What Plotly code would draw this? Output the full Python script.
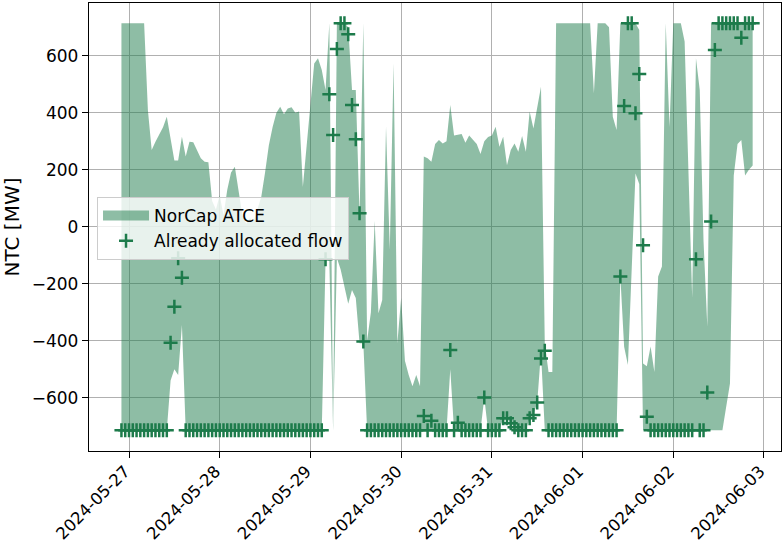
import pandas as pd
import plotly.graph_objects as go

# ---- data (hourly, starting 2024-05-26 22:00) ----
START = "2024-05-26 22:00"

upper = [
    714, 714, 714, 714, 714, 714, 714, 409, 269, 298, 326, 349, 386, 316, 232, 232, 316, 246, 298, 296, 269, 240, 228, 226,
    90, 60, 110, 40, 130, 190, 210, 120, 40, 10, 30, 20, 60, 105, 190, 286, 350, 400, 421, 395, 415, 419, 400, 404,
    140, 280, 410, 573, 591, 550, 480, 714, -700, 714, 714, 714, 700, 480, 480, 40, 714, -400, -300, 20, -304, -257, 351, -80,
    573, -409, -250, -470, -520, -560, -520, -560, 246, 240, 228, 290, 304, 292, 300, 427, 320, 322, 325, 295, 320, 305, 290, 255,
    300, 315, 320, 351, 281, 316, 216, 269, 292, 263, 318, 263, 404, 345, 420, 491, -410, -510, -510, 714, 714, 714, 714, 714,
    714, 714, 714, 714, 714, 468, 714, 714, 714, 700, 386, 339, 714, 714, 714, 714, 714, 690, -480, -490, -420, -510, -175, -140,
    714, 350, 714, 714, 714, 650, 200, -250, 591, 480, -50, -351, 714, 714, 714, 714, 714, 714, 714, 714, 714, 714, 714, 714,
]

lower = [
    -714, -714, -714, -714, -714, -714, -714, -714, -714, -714, -714, -714, -714, -540, -500, -520, -345, -714, -714, -714, -714, -714, -714, -714,
    -714, -714, -714, -714, -714, -714, -714, -714, -714, -714, -714, -714, -714, -714, -714, -714, -714, -714, -714, -714, -714, -714, -714, -714,
    -714, -714, -714, -714, -714, -714, -115, -120, -714, -110, -150, -210, -270, -222, -250, -409, -409, -714, -714, -714, -714, -714, -714, -714,
    -714, -714, -714, -714, -714, -714, -714, -714, -714, -714, -714, -714, -714, -714, -714, -500, -714, -714, -714, -714, -714, -714, -714, -714,
    -600, -714, -714, -714, -714, -672, -672, -690, -704, -714, -714, -714, -672, -660, -617, -440, -714, -714, -714, -714, -714, -714, -714, -714,
    -714, -714, -714, -714, -714, -714, -714, -714, -714, -714, -714, -714, -175, -421, -485, -150, 187, 150, -714, -714, -714, -714, -714, -714,
    -714, -714, -714, -714, -714, -714, -714, -714, -714, -714, -714, -714, -714, -714, -714, -714, -632, -550, 180, 290, 304, 180, 200, 215,
]

allocated = [
    -714, -714, -714, -714, -714, -714, -714, -714, -714, -714, -714, -714, -714, -407, -281, -111, -179, -714, -714, -714, -714, -714, -714, -714,
    -714, -714, -714, -714, -714, -714, -714, -714, -714, -714, -714, -714, -714, -714, -714, -714, -714, -714, -714, -714, -714, -714, -714, -714,
    -714, -714, -714, -714, -714, -714, -114, 465, 322, 624, 714, 714, 675, 427, 307, 47, -403, -714, -714, -714, -714, -714, -714, -714,
    -714, -714, -714, -714, -714, -714, -714, -714, -664, -714, -681, -714, -714, -714, -714, -433, -714, -688, -714, -714, -714, -714, -714, -714,
    -599, -714, -714, -714, -714, -672, -672, -690, -704, -714, -714, -714, -672, -661, -617, -462, -435, -714, -714, -714, -714, -714, -714, -714,
    -714, -714, -714, -714, -714, -714, -714, -714, -714, -714, -714, -714, -175, 424, 714, 714, 398, 536, -65, -667, -714, -714, -714, -714,
    -714, -714, -714, -714, -714, -714, -714, -714, -114, -714, -714, -582, 18, 620, 714, 714, 714, 714, 714, 714, 663, 714, 714, 714,
]

x_tick_dates = ["2024-05-27", "2024-05-28", "2024-05-29", "2024-05-30",
                "2024-05-31", "2024-06-01", "2024-06-02", "2024-06-03"]
y_tick_values = [-600, -400, -200, 0, 200, 400, 600]

times = pd.date_range(START, periods=len(upper), freq="h")

GREEN = "rgb(29,123,75)"
FILL = "rgba(29,123,75,0.5)"
GRID = "#b0b0b0"

fig = go.Figure()
fig.add_trace(go.Scatter(
    x=times, y=lower, mode="lines", line=dict(width=0, color=GREEN),
    showlegend=False, hoverinfo="skip"))
fig.add_trace(go.Scatter(
    x=times, y=upper, mode="lines", line=dict(width=0, color=GREEN),
    fill="tonexty", fillcolor=FILL, name="NorCap ATCE", showlegend=False))
# legend entry for the band (wide patch)
fig.add_trace(go.Scatter(
    x=[None], y=[None], mode="lines", line=dict(width=14, color=FILL),
    name="NorCap ATCE", legendgroup="a"))
fig.add_trace(go.Scatter(
    x=times, y=allocated, mode="markers", name="Already allocated flow",
    marker=dict(symbol="cross-thin", size=10, color=GREEN,
                line=dict(width=2.5, color=GREEN)),
    legendgroup="b"))

fig.update_layout(
    width=782, height=547,
    margin=dict(l=89, r=1, t=3, b=96),
    paper_bgcolor="white", plot_bgcolor="white",
    font=dict(family="DejaVu Sans", size=17, color="black"),
    showlegend=True,
    legend=dict(x=0.0116, y=0.567, xanchor="left", yanchor="top",
                bgcolor="rgba(255,255,255,0.8)", bordercolor="#cccccc",
                borderwidth=1, font=dict(size=17), tracegroupgap=0,
                itemwidth=46),
)
fig.update_xaxes(
    type="date", range=["2024-05-26 13:25", "2024-06-03 04:30"],
    tickvals=x_tick_dates, ticktext=x_tick_dates, tickangle=-45,
    tickfont=dict(size=16.5),
    ticklabelstandoff=-3, ticklabelshift=-4,
    showgrid=True, gridcolor=GRID, gridwidth=1.4,
    showline=True, linecolor="black", linewidth=1.4, mirror=True,
    ticks="outside", ticklen=6, tickwidth=1.4, tickcolor="black",
    zeroline=False, automargin=False,
)
fig.update_yaxes(
    range=[-787, 785], tickvals=y_tick_values,
    showgrid=True, gridcolor=GRID, gridwidth=1.4,
    showline=True, linecolor="black", linewidth=1.4, mirror=True,
    ticks="outside", ticklen=6, tickwidth=1.4, tickcolor="black",
    zeroline=False, automargin=False,
    title=dict(text="NTC [MW]", standoff=8),
)

fig.write_html("out.html",
               config={"displayModeBar": False},
               post_script="document.body.style.margin='0';")
